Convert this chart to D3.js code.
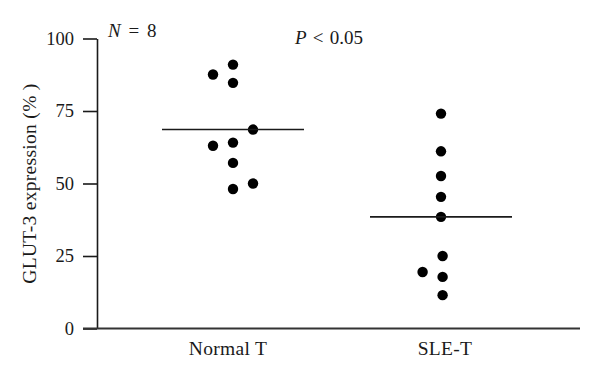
<!DOCTYPE html>
<html>
<head>
<meta charset="utf-8">
<script src="https://cdn.jsdelivr.net/npm/d3@7"></script>
<style>
  html, body { margin: 0; padding: 0; background: #fff; }
  svg { display: block; font-family: "Liberation Serif", "DejaVu Serif", serif; }
</style>
</head>
<body>
<svg id="chart" width="600" height="381"></svg>
<script>
// ---- data ----
const categories = ["Normal T", "SLE-T"];
const normalValues = [91.0, 87.6, 84.7, 68.6, 64.1, 63.0, 57.1, 50.0, 48.1];
const normalColumn = [0, -1, 0, 1, 0, -1, 0, 1, 0];
const sleValues = [74.1, 61.1, 52.6, 45.4, 38.5, 25.0, 19.5, 17.8, 11.5];
const sleColumn = [0, 0, 0, 0, 0, 0.08, -0.92, 0.08, 0.08];
const means = [68.6, 38.5];
const yTicks = [0, 25, 50, 75, 100];
const yLabel = "GLUT-3 expression (% )";

// ---- layout ----
const svg = d3.select("#chart");
const axisX = 97, axisLeftExt = 83, axisRight = 580;
const y = d3.scaleLinear().domain([0, 100]).range([328.5, 38.5]);
const x = d3.scalePoint().domain(categories).range([233, 441]);
const colW = 20;
const meanHalf = 71;
const ink = "#1a1a1a";

// y axis
const yAxis = d3.axisLeft(y).tickValues(yTicks).tickSize(14).tickSizeOuter(0).tickPadding(9);
const gy = svg.append("g").attr("transform", `translate(${axisX},0)`).call(yAxis);
gy.attr("font-family", null);
gy.select(".domain").attr("stroke", ink).attr("stroke-width", 1.6);
gy.selectAll(".tick line").attr("stroke", ink).attr("stroke-width", 1.6);
gy.selectAll(".tick text")
  .attr("fill", ink)
  .style("font-family", '"Liberation Serif", serif')
  .style("font-size", "18.5px");

// x axis baseline
svg.append("line")
  .attr("x1", axisLeftExt).attr("x2", axisRight)
  .attr("y1", y(0)).attr("y2", y(0))
  .attr("stroke", "#333").attr("stroke-width", 2);

// x category labels
const labelDx = [-5, 4];
svg.selectAll(".xlab").data(categories).enter().append("text")
  .attr("class", "xlab")
  .attr("x", (d, i) => x(d) + labelDx[i])
  .attr("y", 355)
  .attr("text-anchor", "middle")
  .attr("fill", ink)
  .style("font-size", "19.5px")
  .style("letter-spacing", "0.3px")
  .text(d => d);

// y label
svg.append("text")
  .attr("transform", `translate(36,${y(50)}) rotate(-90)`)
  .attr("text-anchor", "middle")
  .attr("fill", ink)
  .style("font-size", "19.5px")
  .style("letter-spacing", "0.3px")
  .text(yLabel);

// points
const groups = [
  { cat: categories[0], vals: normalValues, cols: normalColumn },
  { cat: categories[1], vals: sleValues, cols: sleColumn }
];
groups.forEach(g => {
  svg.append("g").selectAll("circle")
    .data(g.vals.map((v, i) => ({ v, c: g.cols[i] })))
    .enter().append("circle")
    .attr("cx", d => x(g.cat) + d.c * colW)
    .attr("cy", d => y(d.v))
    .attr("r", 5.2)
    .attr("fill", "#000");
});

// mean lines
svg.selectAll(".mean").data(categories).enter().append("line")
  .attr("class", "mean")
  .attr("x1", d => x(d) - meanHalf)
  .attr("x2", d => x(d) + meanHalf)
  .attr("y1", (d, i) => y(means[i]))
  .attr("y2", (d, i) => y(means[i]))
  .attr("stroke", ink).attr("stroke-width", 1.6);

// annotations
const tN = svg.append("text").attr("x", 108).attr("y", 37).attr("fill", ink)
  .style("font-size", "19px").style("word-spacing", "3px");
tN.append("tspan").style("font-style", "italic").text("N");
tN.append("tspan").text(" = 8");
const tP = svg.append("text").attr("x", 295).attr("y", 44).attr("fill", ink)
  .style("font-size", "19px").style("word-spacing", "1.5px");
tP.append("tspan").style("font-style", "italic").text("P");
tP.append("tspan").text(" < 0.05");
</script>
</body>
</html>
